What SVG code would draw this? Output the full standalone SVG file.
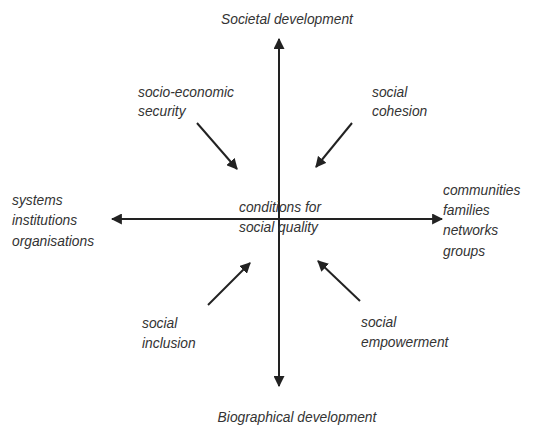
<svg xmlns="http://www.w3.org/2000/svg" width="551" height="426" viewBox="0 0 551 426">
<style>
text{font-family:"Liberation Sans",Arial,sans-serif;font-style:italic;font-size:13.8px;fill:#333}
.ln{stroke:#222;stroke-width:2;fill:none}
</style>
<defs>
<marker id="ah" viewBox="0 0 10 10" refX="9" refY="5" markerWidth="5.5" markerHeight="5.5" orient="auto" markerUnits="strokeWidth">
<path d="M0,0 L10,5 L0,10 z" fill="#222"/>
</marker>
</defs>
<rect width="551" height="426" fill="#fff"/>
<g id="connectors">
<line class="ln" x1="279" y1="219" x2="279" y2="39" marker-end="url(#ah)"/>
<line class="ln" x1="279" y1="219" x2="279" y2="386" marker-end="url(#ah)"/>
<line class="ln" x1="279" y1="219" x2="112" y2="219" marker-end="url(#ah)"/>
<line class="ln" x1="279" y1="219" x2="442" y2="219" marker-end="url(#ah)"/>
<line class="ln" x1="197" y1="123" x2="237" y2="169" marker-end="url(#ah)"/>
<line class="ln" x1="352" y1="123" x2="316" y2="167" marker-end="url(#ah)"/>
<line class="ln" x1="208" y1="305" x2="250" y2="263" marker-end="url(#ah)"/>
<line class="ln" x1="360" y1="301" x2="318" y2="261" marker-end="url(#ah)"/>
</g>
<g id="societal"><text x="287" y="24" text-anchor="middle">Societal development</text></g>
<g id="biographical"><text x="297" y="422" text-anchor="middle">Biographical development</text></g>
<g id="security"><text x="138" y="97">socio-economic</text><text x="138" y="116">security</text></g>
<g id="cohesion"><text x="372" y="97">social</text><text x="372" y="116">cohesion</text></g>
<g id="center"><text x="239" y="212">conditions for</text><text x="239" y="232">social quality</text></g>
<g id="left"><text x="12" y="205">systems</text><text x="12" y="225">institutions</text><text x="12" y="246">organisations</text></g>
<g id="right"><text x="443" y="195">communities</text><text x="443" y="215">families</text><text x="443" y="235">networks</text><text x="443" y="256">groups</text></g>
<g id="inclusion"><text x="142" y="328">social</text><text x="142" y="348">inclusion</text></g>
<g id="empowerment"><text x="361" y="327">social</text><text x="361" y="347">empowerment</text></g>
</svg>
